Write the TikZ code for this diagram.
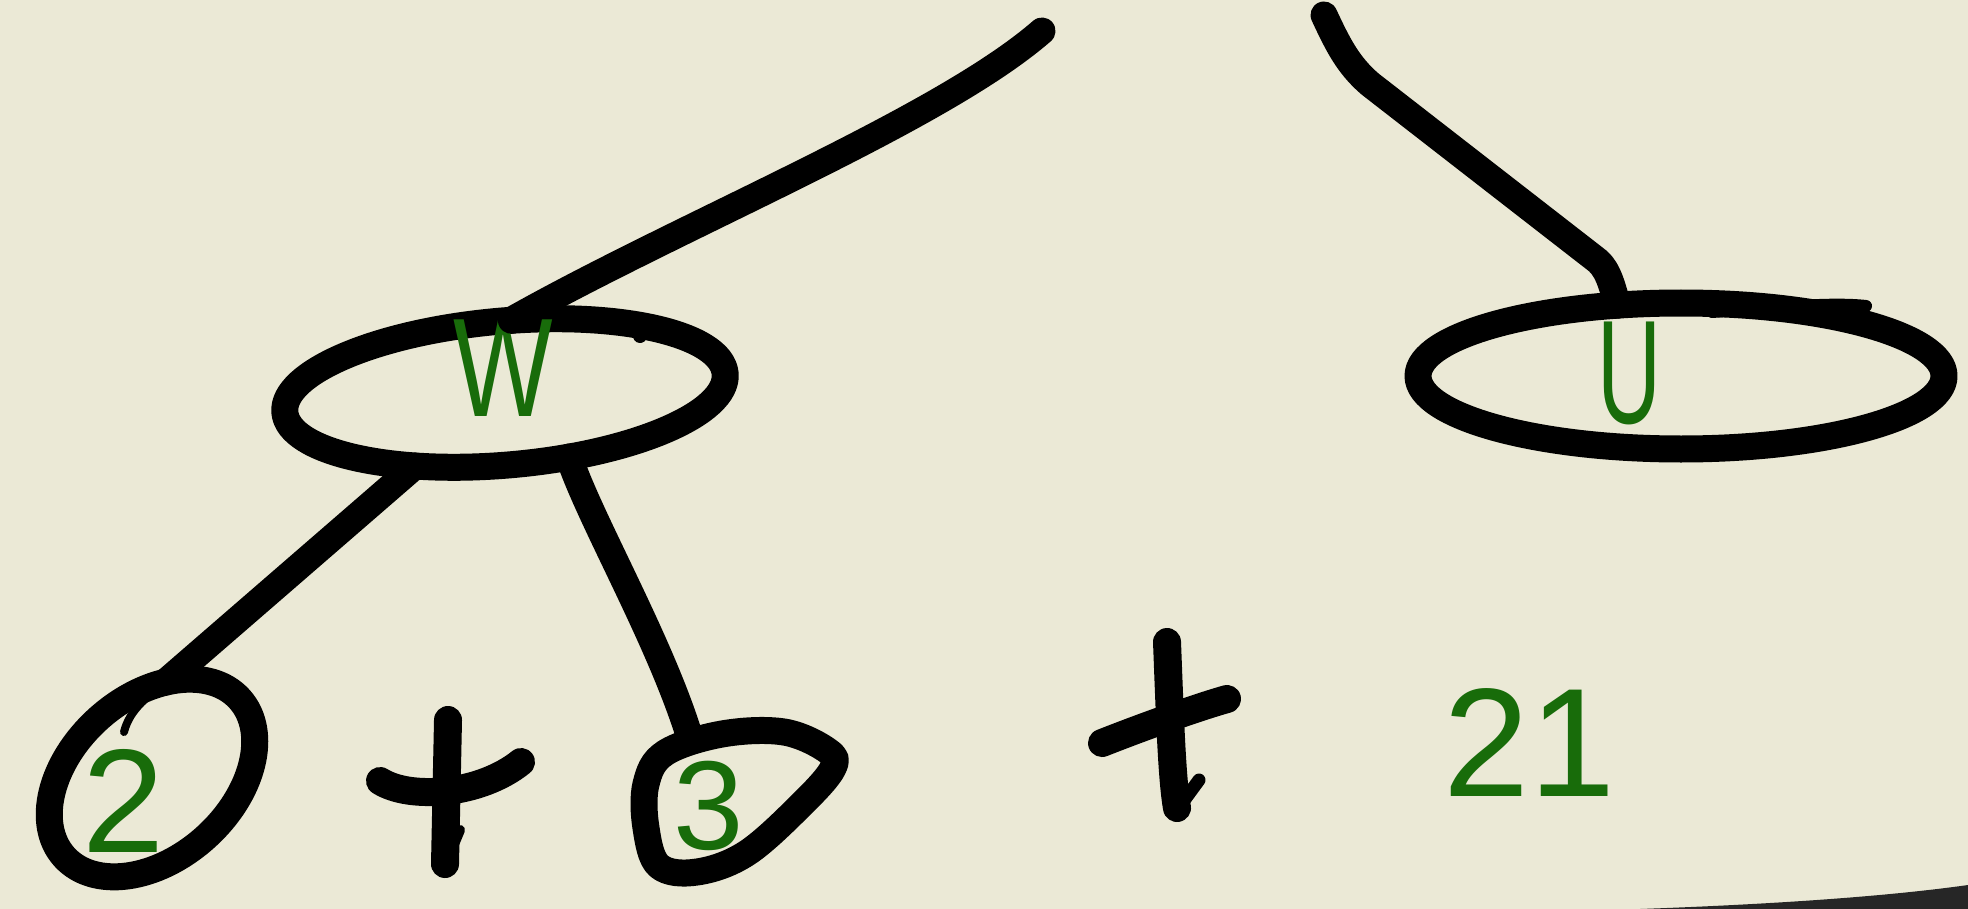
\documentclass[tikz,border=0pt]{standalone}
\usepackage{fontspec}
\setmainfont{Liberation Sans}
\usetikzlibrary{shapes.geometric}
\definecolor{paper}{RGB}{235,233,214}
\definecolor{pen}{RGB}{24,108,10}
\begin{document}
\begin{tikzpicture}[x=0.1mm,y=-0.1mm,
  ink/.style={draw=black, line width=2.7mm, line cap=round, line join=round},
  ell/.style={ink, ellipse, inner sep=0pt, outer sep=0pt},
  lab/.style={text=pen, inner sep=0pt, outer sep=0pt},
  plusstroke/.style={draw=black, line width=2.8mm, line cap=round, line join=round}]
\useasboundingbox (0,0) rectangle (1968,909);
\fill[paper] (0,0) rectangle (1968,909);
% page edge at bottom right
\fill[black!85] (1640,909) .. controls (1780,904) and (1890,896) .. (1968,885) -- (1968,909) -- cycle;

% nodes
\node[ell, minimum width=44.2mm, minimum height=14.4mm, rotate=5] (W) at (505,393) {};
\node[ell, minimum width=23.6mm, minimum height=16mm, rotate=42] (N2) at (152,778) {};
\node[ell, minimum width=52.6mm, minimum height=14.6mm] (U) at (1681,376) {};
% 3 outline (hand drawn)
\draw[ink] plot[smooth cycle, tension=0.6] coordinates {(665,753) (722,734) (784,732) (828,751) (833,768) (803,803) (747,853) (697,872) (659,866) (646,828) (646,784)};
\coordinate (N3top) at (690,738);
\coordinate (Atop) at (1042,31);
\coordinate (Btop) at (1324,15);

% labels
\node[lab, font=\fontsize{40}{40}\selectfont, xscale=0.75] (TW) at (503,368) {W};
\node[lab, font=\fontsize{42}{42}\selectfont, xscale=0.6] (TU) at (1629,373) {U};
\node[lab, font=\fontsize{42}{42}\selectfont] (T2) at (124,801) {2};
\node[lab, font=\fontsize{36}{36}\selectfont] (T3) at (709,806) {3};
\node[lab, font=\fontsize{44}{44}\selectfont] (T21) at (1529,743) {21};

% connectors
\draw[ink] (W.80) .. controls (680,225) and (940,120) .. (Atop);
\draw[ink] (Btop) .. controls (1338,45) and (1348,65) .. (1370,84)
           -- (1594,258) .. controls (1606,266) and (1611,280) .. (U.132);
\draw[ink] (W.214) -- (N2.40);
\draw[ink] (W.310) .. controls (590,520) and (660,640) .. (N3top);
\draw[black, line width=0.8mm, line cap=round] (N2.40) .. controls (150,695) and (130,708) .. (124,732);

% small pen marks
\draw[black, line width=1.4mm, line cap=round] (637,326) -- (640,336);
\draw[black, line width=1.2mm, line cap=round] (1712,312) .. controls (1770,308) and (1830,302) .. (1866,306);

% plus signs (hand drawn)
\draw[plusstroke] (380,781) .. controls (410,800) and (480,795) .. (521,762);
\draw[plusstroke] (448,720) -- (445,864);
\draw[black, line width=1mm, line cap=round] (445,866) -- (460,830);
\draw[plusstroke] (1102,743) .. controls (1140,728) and (1195,708) .. (1227,699);
\draw[plusstroke] (1167,642) .. controls (1170,720) and (1172,780) .. (1177,808);
\draw[black, line width=1.3mm, line cap=round] (1177,810) -- (1199,780);
\end{tikzpicture}
\end{document}
